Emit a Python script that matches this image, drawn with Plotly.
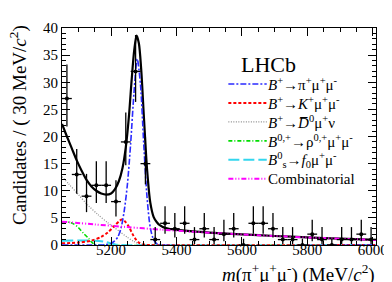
import plotly.graph_objects as go

# ---------------- data ----------------
bin_centers = [5065, 5095, 5125, 5155, 5185, 5215, 5245, 5275, 5305, 5335,
               5365, 5395, 5425, 5455, 5485, 5515, 5545, 5575, 5605, 5635,
               5665, 5695, 5725, 5755, 5785, 5815, 5845, 5875, 5905, 5935,
               5965, 5995]
counts = [27, 13, 9, 11, 11, 8, 19, 32, 15, 1,
          4, 3, 4, 1, 3, 1, 2, 3, 0, 4,
          4, 3, 1, 1, 0, 2, 1, 0, 1, 1,
          2, 1]
bin_half_width = 15

# Poisson (68.3% CL) interval table: count -> (lower error, upper error)
poisson_err = {0: (0.0, 1.148), 1: (0.827, 2.299), 2: (1.292, 2.637),
               3: (1.633, 2.918), 4: (1.914, 3.162), 8: (2.768, 3.945),
               9: (2.943, 4.110), 11: (3.265, 4.416), 13: (3.558, 4.697),
               15: (3.828, 4.958), 19: (4.320, 5.435), 27: (5.163, 6.260),
               32: (5.627, 6.715)}

# total fit (black)
m_total = [5050, 5065, 5080, 5095, 5110, 5125, 5140, 5155, 5170, 5185,
           5200, 5212, 5224, 5235, 5245, 5255, 5263, 5271, 5278, 5285,
           5292, 5300, 5310, 5320, 5330, 5340, 5350, 5365, 5380, 5400,
           5450, 5500, 5600, 5700, 5800, 5900, 6010]
y_total = [22.3, 20.0, 17.8, 15.6, 13.7, 12.0, 10.8, 10.0, 9.5, 9.3,
           9.5, 10.3, 11.8, 14.2, 18.0, 24.0, 30.5, 36.0, 38.6, 37.2,
           32.5, 24.0, 14.0, 7.8, 5.2, 4.2, 3.6, 3.15, 2.95, 2.8,
           2.5, 2.28, 1.95, 1.66, 1.4, 1.16, 0.93]

# B+ -> pi+ mu+ mu- (blue)
m_pimumu = [5050, 5180, 5200, 5210, 5220, 5230, 5240, 5250, 5260, 5270,
            5280, 5290, 5300, 5310, 5320, 5330, 5340, 5355, 6010]
y_pimumu = [0, 0.05, 0.3, 0.7, 1.4, 3.0, 6.2, 11.2, 18.8, 28.0,
            34.3, 29.5, 18.5, 8.8, 3.2, 1.0, 0.25, 0, 0]

# B+ -> K+ mu+ mu- (red)
m_kmumu = [5050, 5100, 5140, 5170, 5190, 5210, 5225, 5233, 5242, 5255,
           5265, 5275, 5285, 5300, 5315, 6010]
y_kmumu = [0.3, 0.45, 0.8, 1.5, 2.3, 3.5, 4.4, 4.7, 4.4, 3.3,
           2.1, 1.1, 0.45, 0.08, 0, 0]

# B+ -> D0bar mu+ nu (grey)
m_dmunu = [5050, 5070, 5100, 5130, 5160, 5190, 5210, 5230, 5250, 5270,
           5290, 5305, 5350, 6010]
y_dmunu = [12.6, 11.3, 9.3, 7.3, 5.6, 4.1, 3.2, 2.3, 1.4, 0.65,
           0.15, 0, 0, 0]

# B0,+ -> rho mu+ mu- (green)
m_rhomumu = [5050, 5070, 5085, 5100, 5115, 5130, 5140, 5150, 5160, 6010]
y_rhomumu = [4.2, 4.2, 3.9, 3.2, 2.2, 1.3, 0.55, 0.1, 0, 0]

# Bs -> f0 mu+ mu- (cyan)
m_f0mumu = [5050, 5100, 5150, 5180, 5200, 5215, 5230, 6010]
y_f0mumu = [0.8, 0.85, 0.8, 0.6, 0.3, 0.07, 0, 0]

# combinatorial (magenta)
m_comb = [5050, 5150, 5250, 5350, 5450, 5550, 5650, 5750, 5850, 5950, 6010]
y_comb = [4.3, 3.8, 3.3, 2.85, 2.45, 2.1, 1.8, 1.52, 1.28, 1.05, 0.92]

legend_labels = [
    "<i>B</i><sup>+</sup>→π<sup>+</sup>μ<sup>+</sup>μ<sup>-</sup>",
    "<i>B</i><sup>+</sup>→<i>K</i><sup>+</sup>μ<sup>+</sup>μ<sup>-</sup>",
    "<i>B</i><sup>+</sup>→<i>D\u0305</i><sup>0</sup>μ<sup>+</sup>ν",
    "<i>B</i><sup>0,+</sup>→ρ<sup>0,+</sup>μ<sup>+</sup>μ<sup>-</sup>",
    "<i>B</i><sup>0</sup><sub>s</sub>→<i>f</i><sub>0</sub>μ<sup>+</sup>μ<sup>-</sup>",
    "Combinatorial",
]

# ---------------- styles ----------------
FONT = "Liberation Serif, Times New Roman, serif"
styles = [
    dict(color="#2a2aff", width=1.6, dash="6px,2px,2px,2px"),
    dict(color="#ff0000", width=2.0, dash="3px,2px"),
    dict(color="#8a8a8a", width=1.2, dash="1px,1.5px"),
    dict(color="#00dd00", width=1.6, dash="4px,2px,1px,2px"),
    dict(color="#33d6ee", width=2.0, dash="11px,4px"),
    dict(color="#ff00ff", width=2.0, dash="5px,2px,1px,2px,1px,2px"),
]
components = [(m_pimumu, y_pimumu), (m_kmumu, y_kmumu), (m_dmunu, y_dmunu),
              (m_rhomumu, y_rhomumu), (m_f0mumu, y_f0mumu), (m_comb, y_comb)]

fig = go.Figure()

fig.add_trace(go.Scatter(x=m_total, y=y_total, mode="lines",
                         line=dict(color="black", width=2.2, shape="spline", smoothing=0.8),
                         showlegend=False, hoverinfo="skip"))

draw_order = [2, 3, 4, 1, 0, 5]
for i in draw_order:
    mx, my = components[i]
    fig.add_trace(go.Scatter(x=mx, y=my, mode="lines",
                             line=dict(shape="spline", smoothing=0.8, **styles[i]),
                             showlegend=False, hoverinfo="skip"))

err_lo = [poisson_err[c][0] for c in counts]
err_hi = [poisson_err[c][1] for c in counts]
fig.add_trace(go.Scatter(
    x=bin_centers, y=counts, mode="markers",
    marker=dict(color="black", size=4),
    error_x=dict(type="constant", value=bin_half_width, color="black", thickness=1.3, width=0),
    error_y=dict(type="data", array=err_hi, arrayminus=err_lo, color="black", thickness=1.3, width=0),
    showlegend=False, hoverinfo="skip"))

# ---------------- layout ----------------
L, R, T, B = 54, 19, 14, 45
W, H = 392, 282
pw, ph = W - L - R, H - T - B


def px_x(px):
    return (px - L) / pw


def px_y(py):
    return 1 - (py - T) / ph


shapes = []
annotations = []
row_y = [71.5, 91, 110.5, 130, 149.5, 169]
for i, (lbl, ry) in enumerate(zip(legend_labels, row_y)):
    st = styles[i]
    shapes.append(dict(type="line", xref="paper", yref="paper",
                       x0=px_x(223), x1=px_x(262), y0=px_y(ry), y1=px_y(ry),
                       line=dict(color=st["color"], width=st["width"], dash=st["dash"])))
    annotations.append(dict(text=lbl, xref="paper", yref="paper",
                            x=px_x(261), y=px_y(ry), xanchor="left", yanchor="middle",
                            showarrow=False, font=dict(family=FONT, size=15, color="black")))

annotations.append(dict(text="LHCb", xref="paper", yref="paper",
                        x=px_x(264), y=px_y(51), xanchor="center", yanchor="middle",
                        showarrow=False, font=dict(family=FONT, size=22, color="black")))

annotations.append(dict(text="Candidates / ( 30 MeV/<i>c</i><sup>2</sup>)",
                        xref="paper", yref="paper", x=px_x(10), y=px_y(114),
                        xanchor="center", yanchor="middle", textangle=-90,
                        showarrow=False, font=dict(family=FONT, size=19, color="black")))

annotations.append(dict(text="<i>m</i>(π<sup>+</sup>μ<sup>+</sup>μ<sup>-</sup>) (MeV/<i>c</i><sup>2</sup>)",
                        xref="paper", yref="paper", x=px_x(374), y=px_y(266),
                        xanchor="right", yanchor="middle",
                        showarrow=False, font=dict(family=FONT, size=19, color="black")))

axis_common = dict(showline=True, linecolor="black", linewidth=1, mirror="allticks",
                   ticks="inside", tickcolor="black", tickwidth=1, showgrid=False,
                   zeroline=False, tickfont=dict(family=FONT, size=15, color="black"))

fig.update_layout(
    width=W, height=H,
    margin=dict(l=L, r=R, t=T, b=B, pad=0),
    paper_bgcolor="white", plot_bgcolor="white",
    xaxis=dict(range=[5050, 6010], tick0=5200, dtick=200, ticklen=8,
               ticklabelstandoff=-9,
               minor=dict(ticks="inside", dtick=50, tick0=5200, ticklen=4, tickcolor="black"),
               **axis_common),
    yaxis=dict(range=[0, 40], tick0=0, dtick=5, ticklen=8,
               minor=dict(ticks="inside", dtick=1, ticklen=4, tickcolor="black"),
               **axis_common),
    shapes=shapes,
    annotations=annotations,
)

fig.write_html("out.html")
